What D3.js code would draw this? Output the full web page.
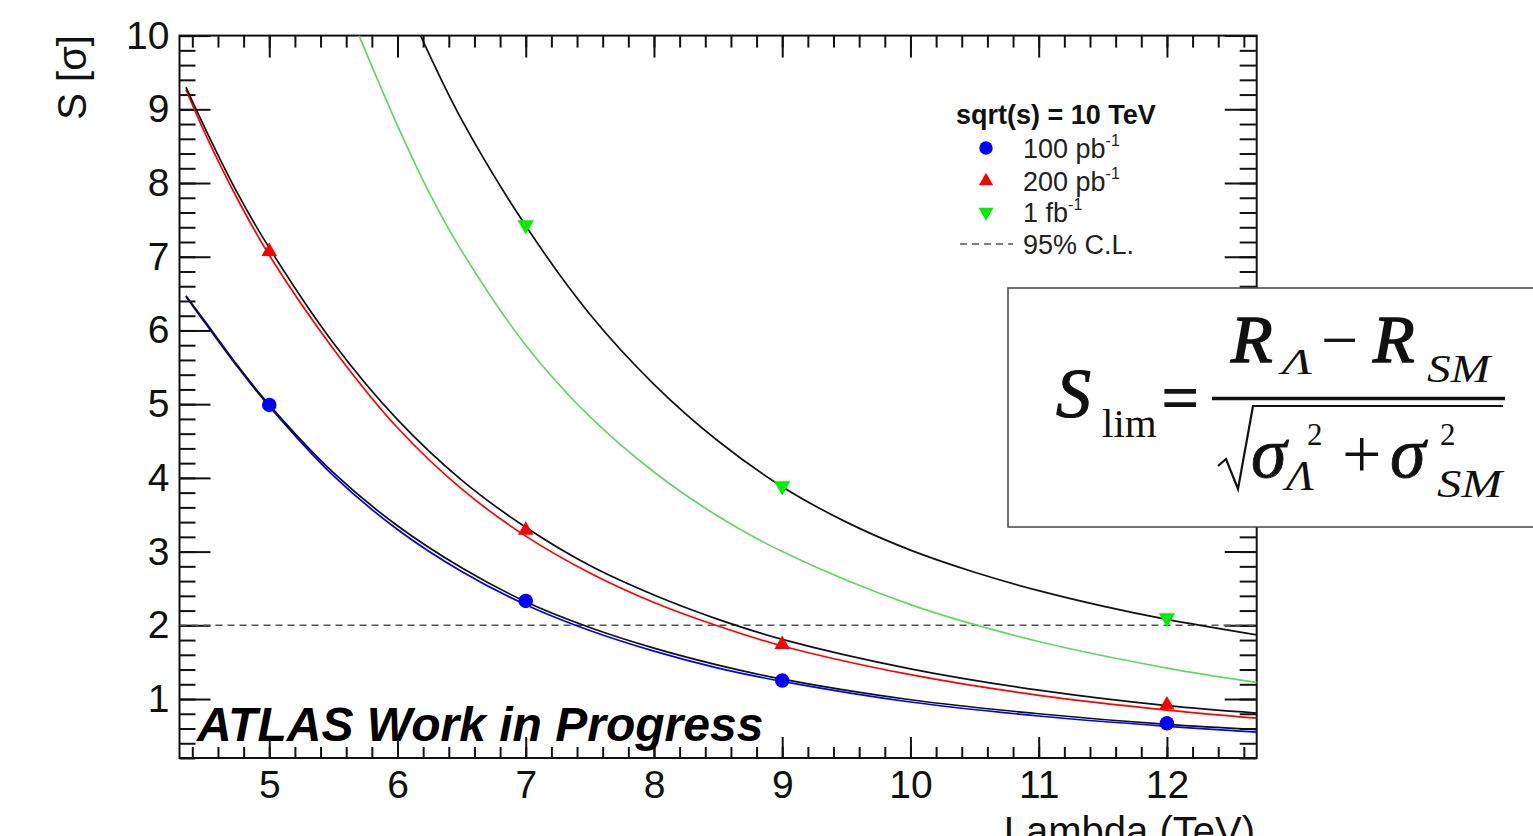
<!DOCTYPE html>
<html>
<head>
<meta charset="utf-8">
<script src="https://cdn.jsdelivr.net/npm/d3@7"></script>
<style>
  body { margin: 0; background: white; }
  svg { display: block; font-family: "Liberation Sans", Arial, sans-serif; }
</style>
</head>
<body>
<svg id="chart" width="1533" height="836"></svg>
<script>
// tick labels
const xMajor = [5, 6, 7, 8, 9, 10, 11, 12]
const yMajor = [1, 2, 3, 4, 5, 6, 7, 8, 9, 10]

// measured points
const p100X = [5, 7, 9, 12]
const p100Y = [4.99, 2.33, 1.25, 0.67]
const p200X = [5, 7, 9, 12]
const p200Y = [7.07, 3.29, 1.74, 0.92]
const p1fbX = [7, 9, 12]
const p1fbY = [7.43, 3.89, 2.10]

// fitted curves
const fitX = [4.35, 4.5, 4.75, 5, 5.5, 6, 6.5, 7, 7.5, 8, 8.5, 9, 10, 11, 12, 12.7]
const fitBlueY = [6.46, 6.10, 5.51, 4.97, 4.03, 3.30, 2.73, 2.28, 1.93, 1.65, 1.42, 1.24, 0.96, 0.77, 0.63, 0.55]
const fitBlackBlueY = [6.47, 6.12, 5.53, 4.99, 4.07, 3.35, 2.78, 2.32, 1.97, 1.69, 1.46, 1.27, 0.99, 0.80, 0.655, 0.585]
const fitRedY = [9.27, 8.67, 7.79, 7.02, 5.75, 4.68, 3.85, 3.21, 2.71, 2.31, 1.99, 1.72, 1.33, 1.05, 0.85, 0.74]
const fitBlackRedY = [9.30, 8.74, 7.87, 7.12, 5.83, 4.79, 3.97, 3.33, 2.81, 2.41, 2.08, 1.81, 1.41, 1.12, 0.91, 0.81]
const fitGreenX = [5.7, 6.0, 6.25, 6.5, 7, 7.5, 8, 8.5, 9, 10, 11, 12, 12.7]
const fitGreenY = [10.0, 8.78, 7.86, 7.08, 5.80, 4.83, 4.08, 3.48, 3.00, 2.28, 1.78, 1.42, 1.225]
const fitBlackGreenX = [6.18, 6.5, 7, 7.5, 8, 8.5, 9, 9.5, 10, 10.5, 11, 11.5, 12, 12.7]
const fitBlackGreenY = [10.0, 8.86, 7.42, 6.22, 5.27, 4.50, 3.88, 3.40, 3.02, 2.72, 2.47, 2.26, 2.08, 1.87]

const clLevel = 2

const legendTitle = 'sqrt(s) = 10 TeV'
const legendLabels = ['100 pb', '200 pb', '1 fb']
const legendSup = ['-1', '-1', '-1']

const svg = d3.select('#chart')

const x = d3.scaleLinear().domain([4.3, 12.7]).range([179.5, 1256.7])
const y = d3.scaleLinear().domain([0.2, 10]).range([758, 35.6])

const zip = (xs, ys) => xs.map((v, i) => [v, ys[i]])

const x0 = x.range()[0], x1 = x.range()[1], y0 = y.range()[0], y1 = y.range()[1]

svg.append('defs').append('clipPath').attr('id', 'plotClip')
  .append('rect')
  .attr('x', x0).attr('y', y1)
  .attr('width', x1 - x0).attr('height', y0 - y1)

// axes: ROOT style, ticks inside on all four sides
const axG = svg.append('g').attr('class', 'axes')

function drawAxis(axis, tx, ty, labels){
  const g = axG.append('g').attr('transform', `translate(${tx},${ty})`).call(axis)
  g.select('.domain').remove()
  g.selectAll('.tick line').attr('stroke', '#111').attr('stroke-width', 2)
  if(!labels) g.selectAll('.tick text').remove()
  else g.selectAll('.tick text').attr('fill', '#111').style('font-size', '39px')
  return g
}

drawAxis(d3.axisBottom(x).tickValues(xMajor).tickSize(-21).tickPadding(10), 0, y0, true)
  .selectAll('.tick text').attr('dy', '0.71em').attr('y', 12)
drawAxis(d3.axisBottom(x).ticks(42).tickSize(-11), 0, y0, false)
drawAxis(d3.axisTop(x).tickValues(xMajor).tickSize(-22), 0, y1, false)
drawAxis(d3.axisTop(x).ticks(42).tickSize(-12), 0, y1, false)
drawAxis(d3.axisLeft(y).tickValues(yMajor).tickSize(-31).tickPadding(10), x0, 0, true)
drawAxis(d3.axisLeft(y).ticks(49).tickSize(-16), x0, 0, false)
drawAxis(d3.axisRight(y).tickValues(yMajor).tickSize(-32), x1, 0, false)
drawAxis(d3.axisRight(y).ticks(49).tickSize(-17), x1, 0, false)

axG.append('rect')
  .attr('x', x0).attr('y', y1)
  .attr('width', x1 - x0).attr('height', y0 - y1)
  .attr('fill', 'none').attr('stroke', '#111').attr('stroke-width', 2)

// axis titles
svg.append('text')
  .attr('transform', 'translate(86,35) rotate(-90)')
  .attr('text-anchor', 'end')
  .style('font-size', '40px').attr('fill', '#111')
  .text('S [σ]')
svg.append('text')
  .attr('x', 1255).attr('y', 845)
  .attr('text-anchor', 'end')
  .style('font-size', '40px').attr('fill', '#111')
  .text('Lambda (TeV)')

// curves
const plot = svg.append('g').attr('clip-path', 'url(#plotClip)')
const line = d3.line().x(d => x(d[0])).y(d => y(d[1])).curve(d3.curveCatmullRom.alpha(0.5))

plot.append('line')
  .attr('x1', x0).attr('x2', x1)
  .attr('y1', y(clLevel)).attr('y2', y(clLevel))
  .attr('stroke', '#555').attr('stroke-width', 1.6).attr('stroke-dasharray', '7,5')

const curves = [
  [fitGreenX, fitGreenY, '#62d862'],
  [fitX, fitRedY, '#ff0000'],
  [fitX, fitBlueY, '#0000ff'],
  [fitBlackGreenX, fitBlackGreenY, '#111'],
  [fitX, fitBlackRedY, '#111'],
  [fitX, fitBlackBlueY, '#111']
]
curves.forEach(c => {
  plot.append('path')
    .attr('d', line(zip(c[0], c[1])))
    .attr('fill', 'none')
    .attr('stroke', c[2])
    .attr('stroke-width', 1.7)
})

// markers
const series = [
  {xs: p100X, ys: p100Y, sym: d3.symbolCircle, size: 165, rot: 0, color: '#0000ff'},
  {xs: p200X, ys: p200Y, sym: d3.symbolTriangle, size: 105, rot: 0, color: '#ff0000'},
  {xs: p1fbX, ys: p1fbY, sym: d3.symbolTriangle, size: 115, rot: 180, color: '#00ee00'}
]
series.forEach(s => {
  plot.selectAll(null)
    .data(zip(s.xs, s.ys))
    .enter().append('path')
    .attr('d', d3.symbol().type(s.sym).size(s.size))
    .attr('transform', d => `translate(${x(d[0])},${y(d[1])}) rotate(${s.rot})`)
    .attr('fill', s.color)
})

// legend
const leg = svg.append('g')
leg.append('text')
  .attr('x', 956).attr('y', 124)
  .style('font-size', '27px').style('font-weight', 'bold').attr('fill', '#111')
  .text(legendTitle)
const legRows = [148, 181, 212]
series.forEach((s, i) => {
  leg.append('path')
    .attr('d', d3.symbol().type(s.sym).size(s.size * 0.85))
    .attr('transform', `translate(986,${legRows[i]}) rotate(${s.rot})`)
    .attr('fill', s.color)
  const t = leg.append('text')
    .attr('x', 1023).attr('y', legRows[i] + 10)
    .style('font-size', '27px').attr('fill', '#222')
  t.append('tspan').text(legendLabels[i])
  t.append('tspan').attr('dy', -12).style('font-size', '16px').text(legendSup[i])
})
leg.append('line')
  .attr('x1', 960).attr('x2', 1013).attr('y1', 244).attr('y2', 244)
  .attr('stroke', '#555').attr('stroke-width', 1.6).attr('stroke-dasharray', '7,5')
leg.append('text')
  .attr('x', 1023).attr('y', 254)
  .style('font-size', '27px').attr('fill', '#222')
  .text('95% C.L.')

// ATLAS label
svg.append('text')
  .attr('x', 197).attr('y', 741)
  .style('font-size', '48px').style('font-weight', 'bold').style('font-style', 'italic')
  .attr('fill', '#000')
  .text('ATLAS Work in Progress')

// formula box
const fb = svg.append('g').style('font-family', '"Liberation Serif", "Times New Roman", serif').attr('fill', '#111')
fb.append('rect')
  .attr('x', 1008).attr('y', 288).attr('width', 560).attr('height', 239)
  .attr('fill', 'white').attr('stroke', '#444').attr('stroke-width', 1.5)

function ftxt(str, px, py, size, italic, heavy, len){
  const t = fb.append('text')
    .attr('x', px).attr('y', py)
    .style('font-size', size + 'px')
    .style('font-style', italic ? 'italic' : 'normal')
    .text(str)
  if(heavy) t.attr('stroke', '#111').attr('stroke-width', heavy)
  if(len) t.attr('textLength', len).attr('lengthAdjust', 'spacingAndGlyphs')
}
ftxt('S', 1056, 417, 70, true, 1.2)
ftxt('lim', 1102, 437, 41, false)
fb.append('text').attr('x', 1161).attr('y', 420)
  .style('font-size', '68px').style('font-weight', 'bold').text('=')
fb.append('line').attr('x1', 1212).attr('x2', 1505).attr('y1', 398.5).attr('y2', 398.5)
  .attr('stroke', '#111').attr('stroke-width', 3.5)
// numerator
ftxt('R', 1231, 362, 68, true, 1.6)
ftxt('Λ', 1282, 374, 36, true, 0, 30)
ftxt('−', 1321, 362, 66, false)
ftxt('R', 1373, 362, 68, true, 1.6)
ftxt('SM', 1427, 382, 41, true, 0, 63)
// denominator
fb.append('path')
  .attr('d', 'M1218,466 L1226,459 L1238,489 L1253,406 L1503,406')
  .attr('fill', 'none').attr('stroke', '#111').attr('stroke-width', 2.2)
ftxt('σ', 1251, 477, 72, true, 0.8)
ftxt('2', 1307, 445, 31, false)
ftxt('Λ', 1286, 490, 42, true, 0, 28)
ftxt('+', 1342, 478, 70, false)
ftxt('σ', 1390, 477, 72, true, 0.8)
ftxt('2', 1440, 445, 31, false)
ftxt('SM', 1437, 497, 41, true, 0, 65)
</script>
</body>
</html>
